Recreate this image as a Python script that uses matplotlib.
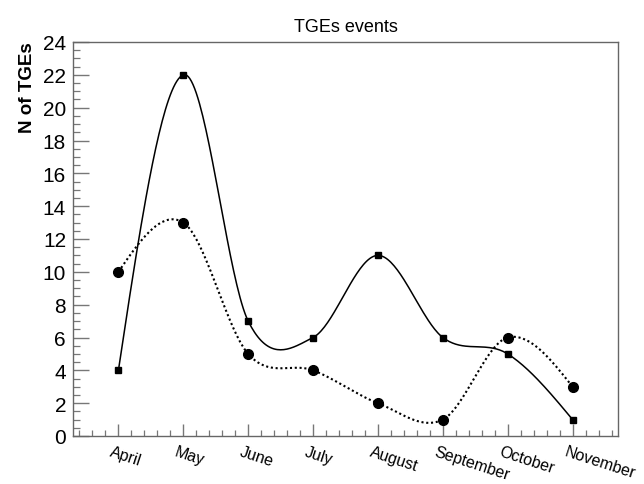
import numpy as np
import matplotlib
matplotlib.use('Agg')
import matplotlib.pyplot as plt
from matplotlib.ticker import MultipleLocator
from matplotlib.transforms import blended_transform_factory, ScaledTranslation

# Monthly counts of TGE events
months = ['April', 'May', 'June', 'July', 'August', 'September', 'October', 'November']
tge_solid = [4, 22, 7, 6, 11, 6, 5, 1]
tge_dotted = [10, 13, 5, 4, 2, 1, 6, 3]

plt.rcParams['font.family'] = ['Liberation Sans', 'DejaVu Sans']


# Smooth curve through the points (cubic Hermite, natural end tangents)
def smooth_curve(x, y, n=40):
    x = np.asarray(x, float)
    y = np.asarray(y, float)
    m = np.zeros_like(y)
    m[1:-1] = (y[2:] - y[:-2]) / (x[2:] - x[:-2])
    m[0] = (3 * (y[1] - y[0]) - m[1]) / 2
    m[-1] = (3 * (y[-1] - y[-2]) - m[-2]) / 2
    xs, ys = [], []
    for i in range(len(x) - 1):
        t = np.linspace(0, 1, n, endpoint=(i == len(x) - 2))
        h = x[i + 1] - x[i]
        h00 = 2 * t**3 - 3 * t**2 + 1
        h10 = t**3 - 2 * t**2 + t
        h01 = -2 * t**3 + 3 * t**2
        h11 = t**3 - t**2
        xs.append(x[i] + t * h)
        ys.append(h00 * y[i] + h10 * h * m[i] + h01 * y[i + 1] + h11 * h * m[i + 1])
    return np.concatenate(xs), np.concatenate(ys)


fig = plt.figure(figsize=(6.44, 4.85), dpi=100)
ax = fig.add_axes([73 / 644, 48 / 485, 545 / 644, 394 / 485])

xpos = np.arange(1, len(months) + 1)

sx, sy = smooth_curve(xpos, tge_solid)
ax.plot(sx, sy, color='black', lw=1.1, solid_capstyle='round')
ax.plot(xpos, tge_solid, linestyle='none', marker='s', ms=5, color='black')

dx, dy = smooth_curve(xpos, tge_dotted)
ax.plot(dx, dy, color='black', lw=1.5, linestyle=(0, (1, 1.3)))
ax.plot(xpos, tge_dotted, linestyle='none', marker='o', ms=7, color='black')

ax.set_xlim(0.3, 8.7)
ax.set_ylim(0, 24)

for s in ax.spines.values():
    s.set_color('#666666')
    s.set_linewidth(1.0)

ax.yaxis.set_major_locator(MultipleLocator(2))
ax.yaxis.set_minor_locator(MultipleLocator(0.5))
ax.xaxis.set_major_locator(MultipleLocator(1))
ax.xaxis.set_minor_locator(MultipleLocator(0.2))
ax.tick_params(axis='y', which='major', direction='in', length=11.5, width=1.0,
               color='#777777', labelsize=15, pad=5)
ax.tick_params(axis='y', which='minor', direction='in', length=5, width=0.9, color='#777777')
ax.tick_params(axis='x', which='major', direction='in', length=8.6, width=1.0,
               color='#777777', labelbottom=False)
ax.tick_params(axis='x', which='minor', direction='in', length=4.3, width=0.9, color='#777777')

# Slanted month labels below the axis
trans = blended_transform_factory(ax.transData, ax.transAxes) + \
    ScaledTranslation(-4 / 72, -5.5 / 72, fig.dpi_scale_trans)
for xp, name in zip(xpos, months):
    ax.text(xp, 0, name, transform=trans, rotation=-18, rotation_mode='anchor',
            ha='left', va='top', fontsize=11.5)

fig.text(346 / 644, 1 - 27 / 485, 'TGEs events', ha='center', va='center', fontsize=13)
fig.text(28 / 644, 1 - 42 / 485, 'N of TGEs', rotation=90, ha='center', va='top',
         fontsize=13.5, fontweight='bold')

fig.savefig('out.png', dpi=100)
